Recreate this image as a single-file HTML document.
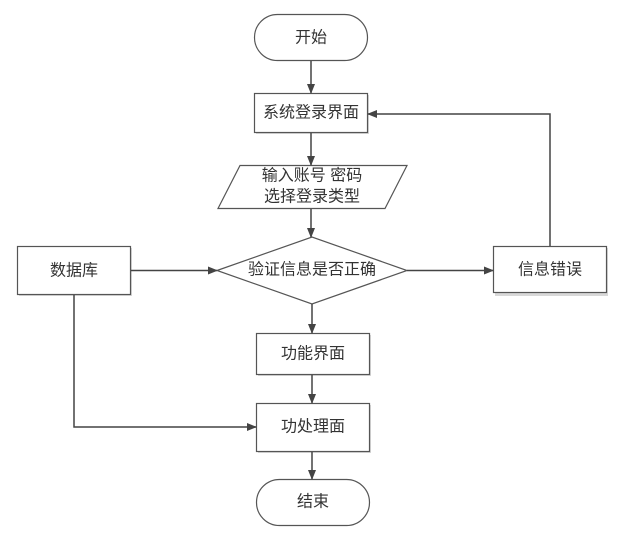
<!DOCTYPE html>
<html><head><meta charset="utf-8"><style>
body{margin:0;background:#fff}
svg text{font-family:"Liberation Sans","Noto Sans CJK SC",sans-serif;font-size:16px;fill:#333;text-anchor:middle;dominant-baseline:central}
</style></head><body>
<svg width="637" height="533" viewBox="0 0 637 533" xmlns="http://www.w3.org/2000/svg">
<defs>
<marker id="a" markerWidth="10" markerHeight="8" refX="9" refY="4" orient="auto" markerUnits="userSpaceOnUse">
<path d="M0,0 L10,4 L0,8 z" fill="#444"/></marker>
</defs>
<g fill="#d8d8d8">
<rect x="256" y="95" width="113" height="39"/>
<rect x="19" y="248" width="113" height="48"/>
<rect x="495" y="248" width="113" height="48"/>
<rect x="258" y="335" width="113" height="41"/>
<rect x="258" y="405" width="113" height="48"/>
</g>
<g fill="#fff" stroke="#555" stroke-width="1.2">
<rect x="254.5" y="14.5" width="113" height="46" rx="23"/>
<rect x="254.5" y="93.5" width="113" height="39"/>
<polygon points="240,165.5 407,165.5 385,208.5 218,208.5"/>
<polygon points="217,270.5 312,237 407,270.5 312,304"/>
<rect x="17.5" y="246.5" width="113" height="48"/>
<rect x="493.5" y="246.5" width="113" height="46"/>
<rect x="256.5" y="333.5" width="113" height="41"/>
<rect x="256.5" y="403.5" width="113" height="48"/>
<rect x="256.5" y="479.5" width="113" height="46" rx="23"/>
</g>
<g stroke="#444" stroke-width="1.5" fill="none" marker-end="url(#a)">
<line x1="311" y1="61" x2="311" y2="93"/>
<line x1="311" y1="133" x2="311" y2="165"/>
<line x1="311" y1="209" x2="311" y2="237"/>
<line x1="131" y1="270.5" x2="217" y2="270.5"/>
<line x1="407" y1="270.5" x2="493" y2="270.5"/>
<line x1="312" y1="304" x2="312" y2="333"/>
<line x1="312" y1="375" x2="312" y2="403"/>
<line x1="312" y1="452" x2="312" y2="479"/>
<polyline points="74,295 74,427 256,427"/>
<polyline points="550,246 550,114 368,114"/>
</g>
<text x="311" y="38">开始</text>
<text x="311" y="113">系统登录界面</text>
<text x="312" y="176">输入账号 密码</text>
<text x="312" y="197">选择登录类型</text>
<text x="312" y="270">验证信息是否正确</text>
<text x="74" y="271">数据库</text>
<text x="550" y="270">信息错误</text>
<text x="313" y="354">功能界面</text>
<text x="313" y="427">功处理面</text>
<text x="313" y="502">结束</text>
</svg>
</body></html>
